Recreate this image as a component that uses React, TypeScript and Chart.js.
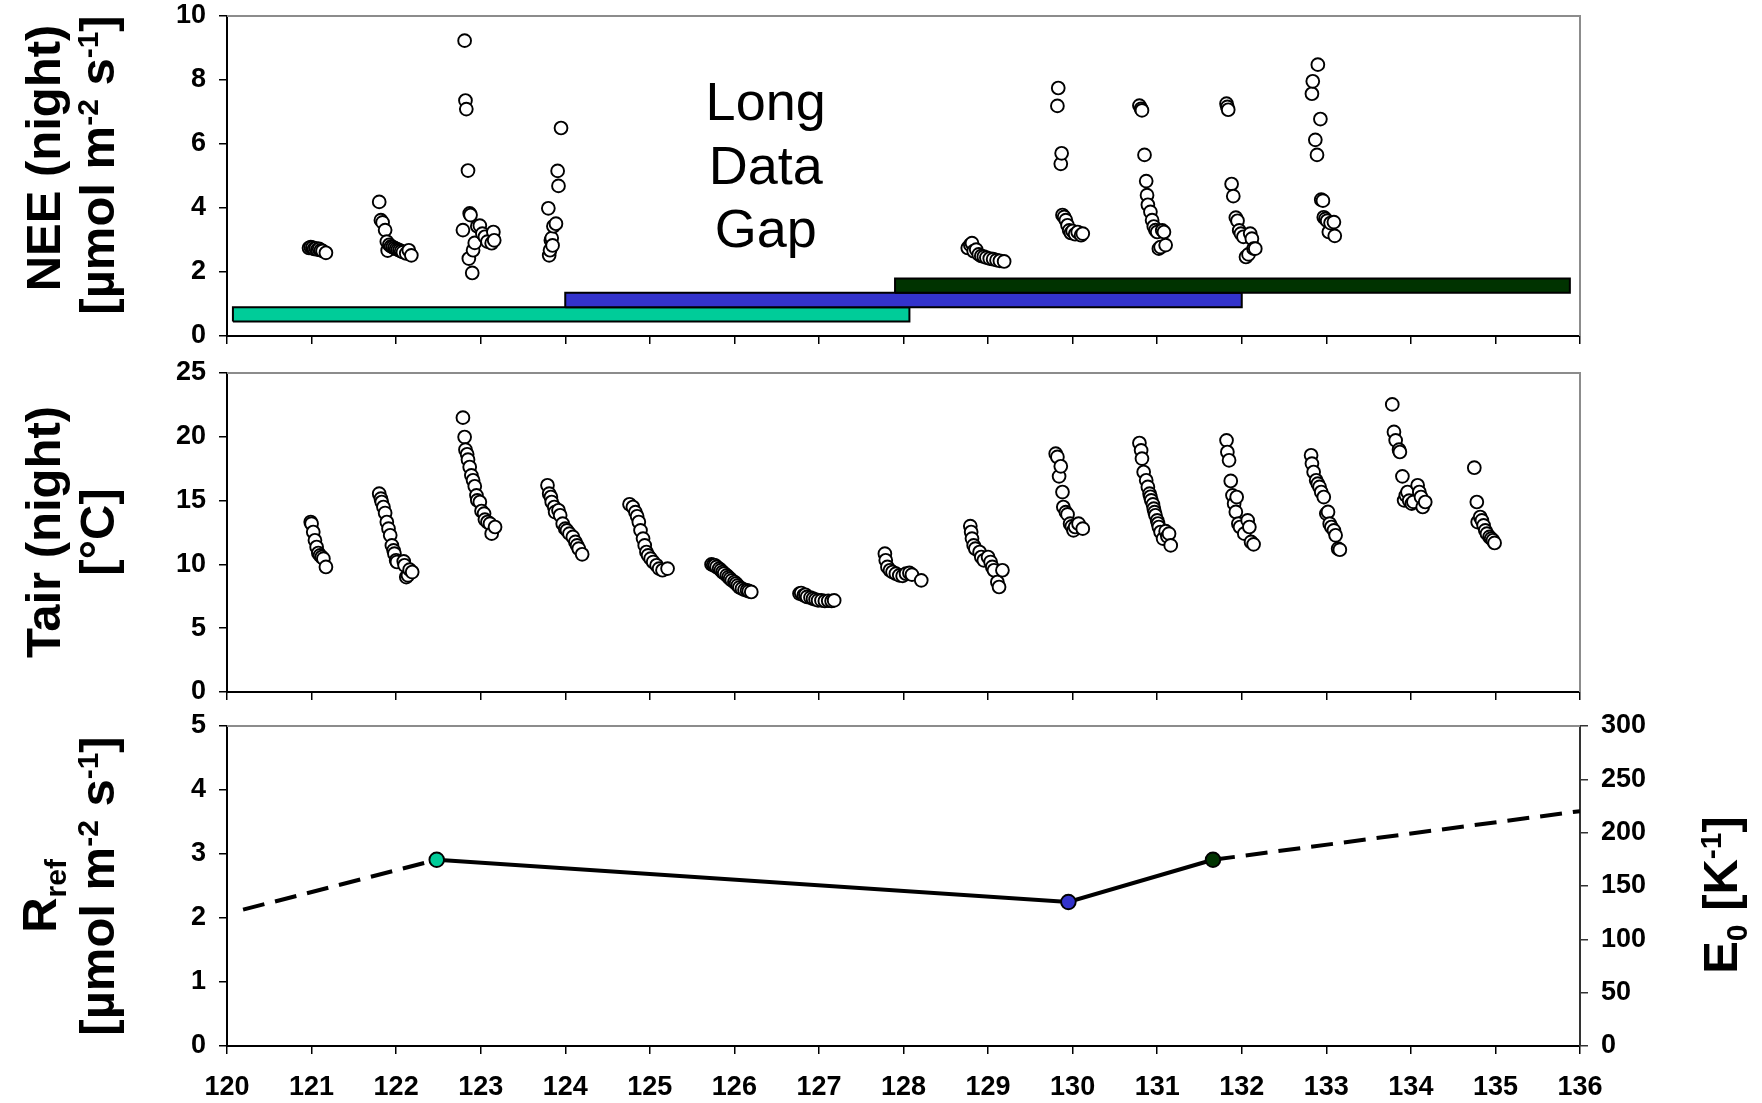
import React, { useEffect, useRef } from 'react';
import { Chart, registerables } from 'chart.js';

Chart.register(...registerables);

const FONT = '"Liberation Sans", Arial, Helvetica, sans-serif';

// ---------- x axis (day of year) ----------
const xTickValues = [120, 121, 122, 123, 124, 125, 126, 127, 128, 129, 130, 131, 132, 133, 134, 135, 136];

// ---------- Panel 1: night-time NEE ----------
const neeTicks = [0, 2, 4, 6, 8, 10];
const neeDoy = [
  120.97, 120.99, 121.01, 121.03, 121.05, 121.07, 121.09, 121.11, 121.13, 121.17,
  121.80, 121.82, 121.84, 121.87, 121.89, 121.90, 121.92, 121.94, 121.96, 121.98, 122.00, 122.02, 122.04, 122.06, 122.08, 122.12, 122.15, 122.18,
  122.79, 122.81, 122.82, 122.83, 122.85, 122.86, 122.87, 122.88, 122.90, 122.91, 122.93, 122.96, 122.99, 123.02, 123.05, 123.08, 123.13, 123.15, 123.16,
  123.80, 123.81, 123.82, 123.83, 123.84, 123.85, 123.86, 123.89, 123.91, 123.92, 123.95,
  128.76, 128.79, 128.81, 128.83, 128.86, 128.89, 128.92, 128.95, 128.98, 129.02, 129.06, 129.10, 129.14, 129.19,
  129.82, 129.83, 129.86, 129.87, 129.88, 129.90, 129.92, 129.94, 129.96, 129.98, 130.00, 130.03, 130.06, 130.10, 130.12,
  130.79, 130.81, 130.82, 130.85, 130.87, 130.88, 130.89, 130.92, 130.94, 130.96, 130.98, 131.00, 131.02, 131.04, 131.06, 131.08, 131.10,
  131.82, 131.83, 131.84, 131.88, 131.90, 131.93, 131.95, 131.97, 131.99, 132.02, 132.05, 132.08, 132.10, 132.12, 132.14, 132.16,
  132.83, 132.84, 132.87, 132.89, 132.90, 132.93, 132.94, 132.96, 132.97, 132.99, 133.01, 133.03, 133.05, 133.09, 133.10,
];
const neeFlux = [
  2.75, 2.78, 2.76, 2.72, 2.74, 2.70, 2.72, 2.68, 2.66, 2.60,
  4.19, 3.62, 3.55, 3.31, 2.95, 2.67, 2.85, 2.80, 2.78, 2.75, 2.72, 2.70, 2.68, 2.65, 2.62, 2.58, 2.68, 2.52,
  3.31, 9.23, 7.36, 7.09, 5.17, 2.42, 3.83, 3.78, 1.97, 2.68, 2.91, 3.43, 3.45, 3.20, 3.10, 2.95, 2.90, 3.25, 2.99,
  3.99, 2.52, 2.68, 2.99, 3.06, 2.83, 3.43, 3.51, 5.16, 4.69, 6.50,
  2.75, 2.85, 2.90, 2.65, 2.70, 2.55, 2.50, 2.48, 2.45, 2.42, 2.40, 2.37, 2.35, 2.33,
  7.19, 7.75, 5.38, 5.71, 3.78, 3.72, 3.62, 3.46, 3.30, 3.22, 3.28, 3.18, 3.25, 3.15, 3.20,
  7.20, 7.10, 7.05, 5.66, 4.84, 4.40, 4.10, 3.88, 3.62, 3.42, 3.31, 3.25, 2.73, 2.78, 3.30, 3.25, 2.84,
  7.26, 7.16, 7.07, 4.75, 4.37, 3.70, 3.60, 3.30, 3.20, 3.10, 2.47, 2.55, 3.20, 3.04, 2.73, 2.73,
  7.57, 7.96, 6.13, 5.66, 8.48, 6.78, 4.26, 4.23, 3.71, 3.66, 3.60, 3.25, 3.53, 3.56, 3.13,
];

// parameter estimation windows (start/end day, lower/upper edge in NEE units)
const windowStart = [120.07, 124.0, 127.9];
const windowEnd = [128.07, 132.0, 135.88];
const windowLow = [0.45, 0.9, 1.35];
const windowHigh = [0.9, 1.35, 1.8];
const windowColors = ['#00CC99', '#3333CC', '#003300'];

const gapLines = ['Long', 'Data', 'Gap'];
const gapDoy = 126.37;
const gapFirstBaseline = 6.75;

// ---------- Panel 2: night-time air temperature ----------
const tairTicks = [0, 5, 10, 15, 20, 25];
const tairDoy = [
  120.99, 121.00, 121.02, 121.04, 121.06, 121.08, 121.10, 121.12, 121.14, 121.17,
  121.80, 121.82, 121.83, 121.85, 121.87, 121.89, 121.91, 121.93, 121.95, 121.97, 121.98, 122.00, 122.01, 122.09, 122.10, 122.12, 122.14, 122.16, 122.19,
  122.79, 122.81, 122.82, 122.84, 122.85, 122.87, 122.89, 122.91, 122.93, 122.95, 122.96, 122.99, 123.01, 123.04, 123.05, 123.08, 123.11, 123.13, 123.17,
  123.79, 123.81, 123.83, 123.84, 123.87, 123.88, 123.92, 123.94, 123.97, 124.00, 124.02, 124.05, 124.09, 124.12, 124.14, 124.16, 124.20,
  124.76, 124.80, 124.83, 124.85, 124.87, 124.89, 124.92, 124.94, 124.96, 124.98, 125.01, 125.04, 125.08, 125.11, 125.15, 125.21,
  125.73, 125.75, 125.77, 125.79, 125.82, 125.84, 125.86, 125.88, 125.91, 125.93, 125.95, 125.97, 126.00, 126.02, 126.04, 126.06, 126.09, 126.12, 126.15, 126.17, 126.20,
  126.77, 126.79, 126.82, 126.84, 126.86, 126.90, 126.93, 126.96, 126.99, 127.03, 127.07, 127.11, 127.15, 127.18,
  127.78, 127.79, 127.81, 127.84, 127.87, 127.91, 127.95, 127.99, 128.03, 128.07, 128.10, 128.21,
  128.79, 128.80, 128.81, 128.83, 128.85, 128.90, 128.92, 128.95, 129.00, 129.03, 129.05, 129.07, 129.11, 129.13, 129.17,
  129.80, 129.82, 129.84, 129.86, 129.88, 129.89, 129.92, 129.94, 129.97, 129.99, 130.01, 130.03, 130.07, 130.12,
  130.79, 130.81, 130.82, 130.84, 130.87, 130.89, 130.91, 130.92, 130.93, 130.95, 130.96, 130.97, 130.98, 131.00, 131.01, 131.02, 131.04, 131.07, 131.10, 131.12, 131.14, 131.16,
  131.82, 131.83, 131.85, 131.87, 131.89, 131.91, 131.93, 131.94, 131.96, 131.98, 132.03, 132.07, 132.09, 132.11, 132.14,
  132.82, 132.83, 132.85, 132.88, 132.90, 132.92, 132.94, 132.97, 133.00, 133.02, 133.04, 133.06, 133.09, 133.11, 133.14, 133.16,
  133.78, 133.80, 133.82, 133.86, 133.87, 133.90, 133.92, 133.94, 133.96, 133.98, 134.01, 134.03, 134.08, 134.10, 134.12, 134.14, 134.17,
  134.75, 134.78, 134.79, 134.82, 134.84, 134.86, 134.88, 134.90, 134.93, 134.95, 134.97, 134.99,
];
const tairTemp = [
  13.32, 13.19, 12.54, 11.89, 11.36, 10.89, 10.71, 10.58, 10.45, 9.80,
  15.54, 15.15, 14.89, 14.50, 14.03, 13.32, 12.80, 12.28, 11.49, 11.10, 10.84, 10.32, 10.19, 10.24, 9.93, 9.01, 9.14, 9.59, 9.40,
  21.50, 19.98, 18.99, 18.63, 18.21, 17.63, 16.98, 16.59, 16.12, 15.41, 15.02, 14.89, 14.18, 13.98, 13.51, 13.32, 13.19, 12.41, 12.93,
  16.20, 15.54, 15.28, 14.89, 14.50, 14.10, 14.24, 13.85, 13.19, 12.80, 12.67, 12.41, 12.15, 11.76, 11.49, 11.23, 10.79,
  14.71, 14.50, 14.10, 13.77, 13.32, 12.67, 12.02, 11.49, 10.97, 10.71, 10.45, 10.19, 9.93, 9.67, 9.54, 9.67,
  10.00, 9.95, 9.93, 9.80, 9.67, 9.55, 9.40, 9.30, 9.14, 9.00, 8.88, 8.75, 8.62, 8.50, 8.36, 8.20, 8.10, 8.00, 7.97, 7.90, 7.84,
  7.71, 7.76, 7.58, 7.62, 7.45, 7.40, 7.31, 7.25, 7.18, 7.18, 7.13, 7.15, 7.13, 7.18,
  10.84, 10.32, 9.80, 9.54, 9.40, 9.27, 9.14, 9.10, 9.27, 9.33, 9.20, 8.75,
  13.00, 12.54, 12.02, 11.49, 11.23, 10.97, 10.58, 10.32, 10.58, 10.19, 9.80, 9.54, 8.62, 8.23, 9.54,
  18.68, 18.42, 16.90, 17.69, 15.67, 14.50, 14.10, 13.92, 13.19, 12.98, 12.67, 12.93, 13.19, 12.80,
  19.51, 18.94, 18.29, 17.24, 16.59, 16.07, 15.54, 15.30, 15.02, 14.70, 14.37, 14.10, 13.85, 13.45, 13.20, 12.93, 12.54, 12.02, 12.60, 12.20, 12.41, 11.49,
  19.72, 18.81, 18.16, 16.54, 15.41, 14.76, 14.11, 15.28, 13.19, 12.93, 12.41, 13.45, 12.93, 11.76, 11.57,
  18.55, 17.90, 17.24, 16.59, 16.33, 16.07, 15.67, 15.28, 13.98, 14.11, 13.19, 12.93, 12.67, 12.28, 11.23, 11.15,
  22.54, 20.38, 19.72, 18.99, 18.81, 16.90, 15.02, 15.41, 15.67, 15.00, 14.76, 14.90, 16.20, 15.67, 15.28, 14.50, 14.89,
  17.58, 14.89, 13.32, 13.71, 13.45, 13.06, 12.67, 12.41, 12.15, 12.02, 11.89, 11.68,
];

// ---------- Panel 3: Rref / E0 ----------
const rrefTicks = [0, 1, 2, 3, 4, 5];
const e0Ticks = [0, 50, 100, 150, 200, 250, 300];
const rrefDoy = [122.48, 129.95, 131.66];
const rrefValue = [2.91, 2.25, 2.91];
const rrefColors = ['#00CC99', '#3333CC', '#003300'];
const extrapStartDoy = [120.19, 131.66];
const extrapStartValue = [2.13, 2.91];
const extrapEndDoy = [122.48, 136.0];
const extrapEndValue = [2.91, 3.67];

// ---------- helpers ----------
type Seg = { t: string; s?: 'sup' | 'sub' };
type RichLabel = { segs: Seg[]; x: number; y: number; size: number };

function drawRich(ctx: CanvasRenderingContext2D, lab: RichLabel) {
  ctx.save();
  ctx.translate(lab.x, lab.y);
  ctx.rotate(-Math.PI / 2);
  const F = lab.size;
  const fontFor = (s?: string) => `bold ${s ? Math.round(F * 0.62) : F}px ${FONT}`;
  let total = 0;
  const widths = lab.segs.map((seg) => {
    ctx.font = fontFor(seg.s);
    const w = ctx.measureText(seg.t).width;
    total += w;
    return w;
  });
  let cx = -total / 2;
  ctx.textAlign = 'left';
  ctx.textBaseline = 'alphabetic';
  ctx.fillStyle = '#000';
  lab.segs.forEach((seg, i) => {
    ctx.font = fontFor(seg.s);
    const dy = seg.s === 'sup' ? -F * 0.33 : seg.s === 'sub' ? F * 0.2 : 0;
    ctx.fillText(seg.t, cx, dy);
    cx += widths[i];
  });
  ctx.restore();
}

const tickFont = { family: FONT, size: 27, weight: 'bold' as const };

function xScale(showLabels: boolean, height: number) {
  return {
    type: 'linear' as const,
    min: 120,
    max: 136,
    afterBuildTicks: (s: any) => {
      s.ticks = xTickValues.map((v) => ({ value: v }));
    },
    ticks: { display: showLabels, font: tickFont, color: '#000', padding: 17, maxRotation: 0, autoSkip: false },
    grid: { drawOnChartArea: false, drawTicks: true, tickLength: 8, color: '#000', lineWidth: 1.5 },
    border: { display: true, color: '#000', width: 2 },
    afterFit: (s: any) => {
      s.height = height;
      s.paddingLeft = 0;
      s.paddingRight = 0;
    },
  };
}

function yScale(values: number[], position: 'left' | 'right', width: number, color: string) {
  return {
    type: 'linear' as const,
    position,
    min: values[0],
    max: values[values.length - 1],
    afterBuildTicks: (s: any) => {
      s.ticks = values.map((v) => ({ value: v }));
    },
    ticks: { font: tickFont, color: '#000', padding: 13 },
    grid: { drawOnChartArea: false, drawTicks: true, tickLength: 8, color, lineWidth: 1.5 },
    border: { display: true, color, width: 2 },
    afterFit: (s: any) => {
      s.width = width;
      s.paddingTop = 0;
      s.paddingBottom = 0;
    },
  };
}

function framePlugin(drawRight: boolean) {
  return {
    id: 'frame',
    afterDatasetsDraw(chart: any) {
      const { ctx, chartArea: a } = chart;
      ctx.save();
      ctx.strokeStyle = '#8c8c8c';
      ctx.lineWidth = 2;
      ctx.beginPath();
      ctx.moveTo(a.left, a.top);
      ctx.lineTo(a.right, a.top);
      if (drawRight) ctx.lineTo(a.right, a.bottom);
      ctx.stroke();
      ctx.restore();
    },
  };
}

function titlesPlugin(labels: RichLabel[]) {
  return {
    id: 'richTitles',
    afterDraw(chart: any) {
      labels.forEach((l) => drawRich(chart.ctx, l));
    },
  };
}

const gapPlugin = {
  id: 'gapText',
  afterDatasetsDraw(chart: any) {
    const { ctx, scales } = chart;
    const x = scales.x.getPixelForValue(gapDoy);
    const y0 = scales.y.getPixelForValue(gapFirstBaseline);
    ctx.save();
    ctx.font = `54px ${FONT}`;
    ctx.fillStyle = '#000';
    ctx.textAlign = 'center';
    ctx.textBaseline = 'alphabetic';
    gapLines.forEach((t, i) => ctx.fillText(t, x, y0 + i * 63.5));
    ctx.restore();
  },
};

const unitSegs: Seg[] = [{ t: '[µmol m' }, { t: '-2', s: 'sup' }, { t: ' s' }, { t: '-1', s: 'sup' }, { t: ']' }];

const pointStyle = {
  pointRadius: 6.4,
  pointBorderWidth: 1.9,
  pointBackgroundColor: '#ffffff',
  pointBorderColor: '#000000',
  backgroundColor: '#ffffff',
  borderColor: '#000000',
};

const baseOptions = (padding: any) => ({
  animation: false as const,
  responsive: false,
  devicePixelRatio: 1,
  events: [] as any[],
  layout: { padding, autoPadding: false },
  plugins: { legend: { display: false }, tooltip: { enabled: false } },
});

function neeConfig(): any {
  const bars = windowStart.map((x0, i) => ({
    type: 'line',
    data: [
      { x: x0, y: windowLow[i] },
      { x: windowEnd[i], y: windowLow[i] },
      { x: windowEnd[i], y: windowHigh[i] },
      { x: x0, y: windowHigh[i] },
      { x: x0, y: windowLow[i] },
    ],
    borderColor: '#000',
    borderWidth: 2,
    backgroundColor: windowColors[i],
    fill: 'shape',
    pointRadius: 0,
    tension: 0,
  }));
  return {
    type: 'scatter',
    data: {
      datasets: [
        { type: 'scatter', data: neeDoy.map((x, i) => ({ x, y: neeFlux[i] })), ...pointStyle },
        ...bars.reverse(),
      ],
    },
    options: {
      ...baseOptions({ left: 0, right: 182, top: 16, bottom: 0 }),
      scales: { x: xScale(false, 24), y: yScale(neeTicks, 'left', 227, '#000') },
    },
    plugins: [
      framePlugin(true),
      gapPlugin,
      titlesPlugin([
        { segs: [{ t: 'NEE (night)' }], x: 60, y: 158, size: 49 },
        { segs: unitSegs, x: 114, y: 165, size: 49 },
      ]),
    ],
  };
}

function tairConfig(): any {
  return {
    type: 'scatter',
    data: {
      datasets: [{ type: 'scatter', data: tairDoy.map((x, i) => ({ x, y: tairTemp[i] })), ...pointStyle }],
    },
    options: {
      ...baseOptions({ left: 0, right: 182, top: 13, bottom: 0 }),
      scales: { x: xScale(false, 18), y: yScale(tairTicks, 'left', 227, '#000') },
    },
    plugins: [
      framePlugin(true),
      titlesPlugin([
        { segs: [{ t: 'Tair (night)' }], x: 60, y: 172, size: 49 },
        { segs: [{ t: '[°C]' }], x: 114, y: 172, size: 49 },
      ]),
    ],
  };
}

function rrefConfig(): any {
  const extrap = extrapStartDoy.map((x0, i) => ({
    type: 'line',
    data: [
      { x: x0, y: extrapStartValue[i] },
      { x: extrapEndDoy[i], y: extrapEndValue[i] },
    ],
    borderColor: '#000',
    borderWidth: 4,
    borderDash: [22, 11],
    pointRadius: 0,
    fill: false,
    tension: 0,
  }));
  return {
    type: 'scatter',
    data: {
      datasets: [
        {
          type: 'line',
          data: rrefDoy.map((x, i) => ({ x, y: rrefValue[i] })),
          borderColor: '#000',
          borderWidth: 4,
          fill: false,
          tension: 0,
          pointRadius: 7.3,
          pointBorderWidth: 1.9,
          pointBorderColor: '#000',
          pointBackgroundColor: rrefColors,
        },
        ...extrap,
      ],
    },
    options: {
      ...baseOptions({ left: 0, right: 0, top: 16, bottom: 0 }),
      scales: {
        x: xScale(true, 57),
        y: yScale(rrefTicks, 'left', 227, '#000'),
        y2: yScale(e0Ticks, 'right', 182, '#333'),
      },
    },
    plugins: [
      framePlugin(false),
      titlesPlugin([
        { segs: [{ t: 'R' }, { t: 'ref', s: 'sub' }], x: 56, y: 186, size: 49 },
        { segs: unitSegs, x: 114, y: 176, size: 49 },
        { segs: [{ t: 'E' }, { t: '0', s: 'sub' }, { t: ' [K' }, { t: '-1', s: 'sup' }, { t: ']' }], x: 1737, y: 185, size: 49 },
      ]),
    ],
  };
}

function Panel({ top, height, make }: { top: number; height: number; make: () => any }) {
  const ref = useRef<HTMLCanvasElement>(null);
  useEffect(() => {
    if (!ref.current) return;
    const chart = new Chart(ref.current, make());
    return () => chart.destroy();
  }, []);
  return (
    <canvas
      ref={ref}
      width={1762}
      height={height}
      style={{ position: 'absolute', left: 0, top, width: 1762, height, display: 'block' }}
    />
  );
}

export default function App() {
  return (
    <div style={{ position: 'absolute', left: 0, top: 0, width: 1762, height: 1103, background: '#fff', overflow: 'hidden' }}>
      <Panel top={0} height={360} make={neeConfig} />
      <Panel top={360} height={350} make={tairConfig} />
      <Panel top={710} height={393} make={rrefConfig} />
    </div>
  );
}
